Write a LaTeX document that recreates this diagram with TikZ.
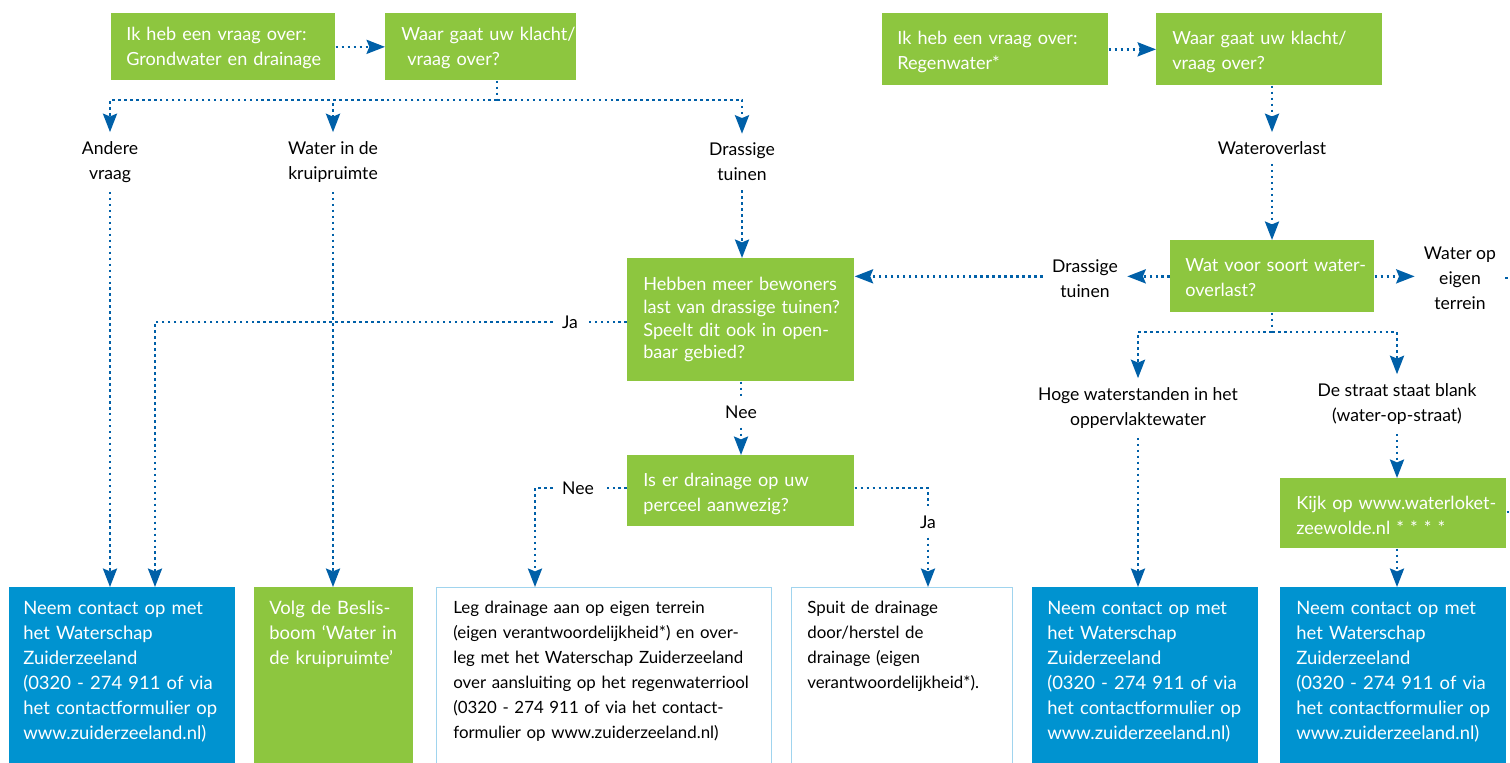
\documentclass[tikz,border=0pt]{standalone}
\usepackage{fontspec}
\setmainfont{Lato}
\usetikzlibrary{arrows.meta, positioning}

\definecolor{fgreen}{RGB}{141,198,63}
\definecolor{fblue}{RGB}{0,147,208}
\definecolor{lineblue}{RGB}{0,96,168}
\definecolor{edgeblue}{RGB}{160,212,238}

\tikzset{
  flow/.style={lineblue, line width=1.45pt, dash pattern=on 1.45pt off 1.95pt},
  arr/.style={flow, -{Stealth[length=10.5pt,width=8pt,inset=1.6pt]}},
  gbox/.style={fill=fgreen, anchor=north west, inner sep=0pt},
  endbox/.style={anchor=north west, minimum height=3.7cm, inner sep=0pt},
  gtext/.style={anchor=west, align=left, inner sep=0pt, text=white, text width=5cm, font=\fontsize{10.3}{14.2}\selectfont},
  btext/.style={anchor=north west, align=left, inner sep=0pt, text width=6.6cm, font=\fontsize{10.5}{14.2}\selectfont},
  lbl/.style={align=center, inner sep=0.18cm, font=\fontsize{10}{14.2}\selectfont},
}

\begin{document}
\begin{tikzpicture}[x=0.02cm,y=-0.02cm]
\useasboundingbox (0,0) rectangle (1510,762);

% green question boxes
\node[gbox, minimum width=4.48cm, minimum height=1.34cm] (grond) at (111,13) {};
\node[gbox, minimum width=3.82cm, minimum height=1.34cm] (klacht1) at (385,13) {};
\node[gbox, minimum width=4.52cm, minimum height=1.44cm] (regen) at (882,13) {};
\node[gbox, minimum width=4.52cm, minimum height=1.44cm] (klacht2) at (1156,13) {};
\node[gbox, minimum width=4.54cm, minimum height=2.46cm] (bewoners) at (627,258) {};
\node[gbox, minimum width=4.54cm, minimum height=1.42cm] (perceel) at (627,455) {};
\node[gbox, minimum width=4.08cm, minimum height=1.44cm] (soort) at (1170,240) {};
\node[gbox, minimum width=4.52cm, minimum height=1.40cm] (kijk) at (1280,478) {};

\node[gtext] (t-grond) at ([xshift=0.3cm,yshift=-0.03cm]grond.west) {Ik heb een vraag over:\\Grondwater en drainage};
\node[gtext] (t-klacht1) at ([xshift=0.32cm,yshift=-0.03cm]klacht1.west) {Waar gaat uw klacht/\\\ vraag over?};
\node[gtext] (t-regen) at ([xshift=0.3cm,yshift=-0.06cm]regen.west) {Ik heb een vraag over:\\Regenwater*};
\node[gtext] (t-klacht2) at ([xshift=0.32cm,yshift=-0.06cm]klacht2.west) {Waar gaat uw klacht/\\vraag over?};
\node[gtext, font=\fontsize{10.3}{12.9}\selectfont] (t-bewoners) at ([xshift=0.32cm,yshift=0cm]bewoners.west) {Hebben meer bewoners\\last van drassige tuinen?\\Speelt dit ook in open-\\baar gebied?};
\node[gtext] (t-perceel) at ([xshift=0.32cm,yshift=-0.06cm]perceel.west) {Is er drainage op uw\\perceel aanwezig?};
\node[gtext] (t-soort) at ([xshift=0.3cm,yshift=-0.03cm]soort.west) {Wat voor soort water-\\overlast?};
\node[gtext] (t-kijk) at ([xshift=0.32cm,yshift=-0.05cm]kijk.west) {Kijk op www.waterloket-\\zeewolde.nl * * * *};

% answers
\node[lbl] (andere) at (110,162) {Andere\\vraag};
\node[lbl] (kruip) at (333,162) {Water in de\\kruipruimte};
\node[lbl] (drassig1) at (742,162) {Drassige\\tuinen};
\node[lbl] (ja1) at (570,322) {Ja};
\node[lbl] (nee1) at (741,412) {Nee};
\node[lbl] (nee2) at (578,488) {Nee};
\node[lbl] (ja2) at (928,522) {Ja};
\node[lbl] (overlast) at (1272,148) {Wateroverlast};
\node[lbl] (drassig2) at (1085,279) {Drassige\\tuinen};
\node[lbl] (eigen) at (1460,278) {Water op\\eigen\\terrein};
\node[lbl] (hoge) at (1138,408) {Hoge waterstanden in het\\oppervlaktewater};
\node[lbl] (straat) at (1397,404) {De straat staat blank\\(water-op-straat)};

% end boxes
\node[endbox, fill=fblue, minimum width=4.52cm] (contact1) at (9,587) {};
\node[endbox, fill=fgreen, minimum width=3.18cm] (beslis) at (254,587) {};
\node[endbox, draw=edgeblue, line width=0.6pt, minimum width=6.7cm] (aanleg) at (436,587) {};
\node[endbox, draw=edgeblue, line width=0.6pt, minimum width=4.42cm] (spuit) at (791,587) {};
\node[endbox, fill=fblue, minimum width=4.52cm] (contact2) at (1032,587) {};
\node[endbox, fill=fblue, minimum width=4.52cm] (contact3) at (1280,587) {};

\node[btext, text=white] (t-contact1) at ([xshift=0.28cm,yshift=-0.28cm]contact1.north west) {Neem contact op met\\het Waterschap\\Zuiderzeeland\\(0320 - 274 911 of via\\het contactformulier op\\www.zuiderzeeland.nl)};
\node[btext, text=white] (t-beslis) at ([xshift=0.3cm,yshift=-0.28cm]beslis.north west) {Volg de Beslis-\\boom ‘Water in\\de kruipruimte’};
\node[btext, font=\fontsize{9.6}{14.2}\selectfont] (t-aanleg) at ([xshift=0.34cm,yshift=-0.28cm]aanleg.north west) {Leg drainage aan op eigen terrein\\(eigen verantwoordelijkheid*) en over-\\leg met het Waterschap Zuiderzeeland\\over aansluiting op het regenwaterriool\\(0320 - 274 911 of via het contact-\\formulier op www.zuiderzeeland.nl)};
\node[btext, font=\fontsize{9.6}{14.2}\selectfont] (t-spuit) at ([xshift=0.32cm,yshift=-0.28cm]spuit.north west) {Spuit de drainage\\door/herstel de\\drainage (eigen\\verantwoordelijkheid*).};
\node[btext, text=white] (t-contact2) at ([xshift=0.3cm,yshift=-0.28cm]contact2.north west) {Neem contact op met\\het Waterschap\\Zuiderzeeland\\(0320 - 274 911 of via\\het contactformulier op\\www.zuiderzeeland.nl)};
\node[btext, text=white] (t-contact3) at ([xshift=0.32cm,yshift=-0.28cm]contact3.north west) {Neem contact op met\\het Waterschap\\Zuiderzeeland\\(0320 - 274 911 of via\\het contactformulier op\\www.zuiderzeeland.nl)};

% helper points
\coordinate (split1) at (497,100);
\coordinate (split2) at (1272,332);
\coordinate (jahoek) at (155,322);
\coordinate (neehoek) at (535,488);
\coordinate (rand1) at (1540,278);
\coordinate (rand2) at (1540,512);

% left tree
\draw[arr] (grond) -- (klacht1);
\draw[flow] (klacht1.south -| split1) -- (split1);
\draw[arr] (split1) -| (andere);
\draw[arr] (split1) -| (kruip);
\draw[arr] (split1) -| (drassig1);
\draw[arr] (andere.south) -- (andere.south |- contact1.north);
\draw[arr] (kruip.south) -- (kruip.south |- beslis.north);
\draw[arr] (drassig1.south) -- (drassig1.south |- bewoners.north);
\draw[flow] (bewoners.west |- ja1) -- (ja1);
\draw[arr] (ja1) -- (jahoek) -- (jahoek |- contact1.north);
\draw[flow] (bewoners.south -| nee1) -- (nee1);
\draw[arr] (nee1) -- (nee1 |- perceel.north);
\draw[flow] (perceel.west |- nee2) -- (nee2);
\draw[arr] (nee2) -- (neehoek) -- (neehoek |- aanleg.north);
\draw[flow] (perceel.east |- nee2) -| (ja2);
\draw[arr] (ja2) -- (ja2 |- spuit.north);

% right tree
\draw[arr] (regen) -- (klacht2);
\draw[arr] (klacht2.south -| overlast) -- (overlast);
\draw[arr] (overlast) -- (overlast |- soort.north);
\draw[arr] (soort.west) -- (soort.west -| drassig2.east);
\draw[arr] (soort.west -| drassig2.west) -- (soort.west -| bewoners.east);
\draw[arr] (soort.east) -- (soort.east -| eigen.west);
\draw[flow] (eigen.east |- rand1) -- (rand1);
\draw[flow] (soort.south -| split2) -- (split2);
\draw[arr] (split2) -| (hoge);
\draw[arr] (split2) -| (straat);
\draw[arr] (hoge.south) -- (hoge.south |- contact2.north);
\draw[arr] (straat.south) -- (straat.south |- kijk.north);
\draw[arr] (straat.south |- kijk.south) -- (straat.south |- contact3.north);
\draw[flow] (kijk.east |- rand2) -- (rand2);

\end{tikzpicture}
\end{document}
